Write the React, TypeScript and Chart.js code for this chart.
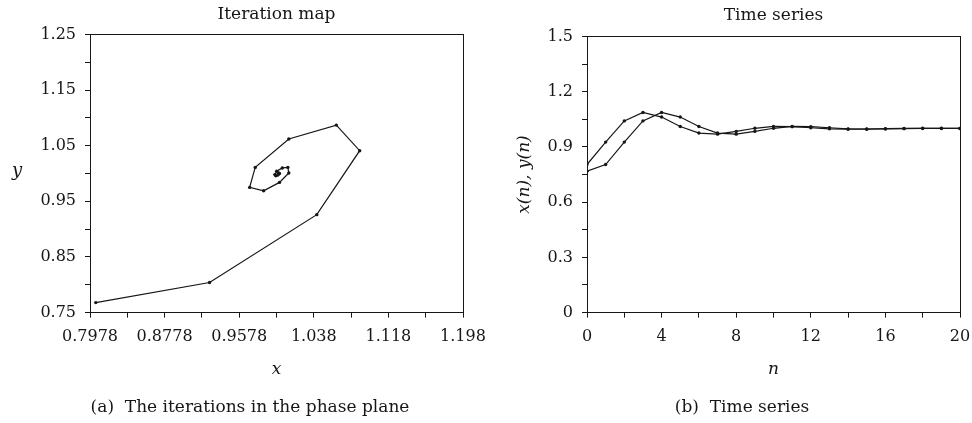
import React, { useEffect, useRef } from "react";
import { Chart, registerables } from "chart.js";

Chart.register(...registerables);

// ---------- data ----------
const nValues = [0, 1, 2, 3, 4, 5, 6, 7, 8, 9, 10, 11, 12, 13, 14, 15, 16, 17, 18, 19, 20];
const xSeries = [0.804, 0.926, 1.041, 1.087, 1.062, 1.011, 0.975, 0.969, 0.984, 1.001, 1.011, 1.01, 1.004, 0.998, 0.996, 0.997, 0.999, 1.0, 1.001, 1.0, 1.0];
const ySeries = [0.768, 0.804, 0.926, 1.041, 1.087, 1.062, 1.011, 0.975, 0.969, 0.984, 1.001, 1.011, 1.01, 1.004, 0.998, 0.996, 0.997, 0.999, 1.0, 1.001, 1.0];

const phaseXTicks = [0.7978, 0.8378, 0.8778, 0.9178, 0.9578, 0.9978, 1.0378, 1.0778, 1.1178, 1.1578, 1.1978];
const phaseXTickLabels = ["0.7978", "0.8778", "0.9578", "1.038", "1.118", "1.198"];
const phaseYTicks = [0.75, 0.8, 0.85, 0.9, 0.95, 1.0, 1.05, 1.1, 1.15, 1.2, 1.25];
const phaseYTickLabels = ["0.75", "0.85", "0.95", "1.05", "1.15", "1.25"];

const timeXTicks = [0, 2, 4, 6, 8, 10, 12, 14, 16, 18, 20];
const timeXTickLabels = ["0", "4", "8", "12", "16", "20"];
const timeYTicks = [0, 0.15, 0.3, 0.45, 0.6, 0.75, 0.9, 1.05, 1.2, 1.35, 1.5];
const timeYTickLabels = ["0", "0.3", "0.6", "0.9", "1.2", "1.5"];

const leftTitle = "Iteration map";
const rightTitle = "Time series";
const leftCaption = "(a)  The iterations in the phase plane";
const rightCaption = "(b)  Time series";
const leftXLabel = "x";
const leftYLabel = "y";
const rightXLabel = "n";
const rightYLabel = "x(n), y(n)";

// ---------- styling ----------
const INK = "#161616";
const FAMILY = "'DejaVu Serif', 'Liberation Serif', serif";
const tickFont = { family: FAMILY, size: 16, style: "normal" as const, weight: "normal" as const };
const labelFont = { family: FAMILY, size: 17, style: "italic" as const, weight: "normal" as const };
const titleFont = { family: FAMILY, size: 17, weight: "normal" as const };
const captionFont = { family: FAMILY, size: 17, weight: "normal" as const };

function tickedAxis(
  position: "left" | "bottom",
  min: number,
  max: number,
  ticks: number[],
  labels: string[],
  size: number,
  title?: any
) {
  const horizontal = position === "bottom";
  return {
    type: "linear" as const,
    position,
    min,
    max,
    afterBuildTicks: (s: any) => {
      s.ticks = ticks.map((v) => ({ value: v }));
    },
    afterFit: (s: any) => {
      if (horizontal) s.height = size;
      else s.width = size;
    },
    ticks: {
      autoSkip: false,
      maxRotation: 0,
      minRotation: 0,
      padding: horizontal ? 10 : 9,
      color: INK,
      font: tickFont,
      callback: (_v: any, i: number) => (i % 2 === 0 ? labels[i / 2] : ""),
    },
    grid: {
      display: true,
      drawOnChartArea: false,
      drawTicks: true,
      tickLength: 5,
      color: INK,
      lineWidth: 1,
    },
    border: { display: true, color: INK, width: 1 },
    title: title || { display: false },
  };
}

function frameAxes(rightWidth: number) {
  return {
    xTop: {
      type: "linear" as const,
      position: "top" as const,
      display: true,
      ticks: { display: false },
      grid: { display: false, drawTicks: false },
      border: { display: true, color: INK, width: 1 },
      afterFit: (s: any) => {
        s.height = 0;
      },
    },
    yRight: {
      type: "linear" as const,
      position: "right" as const,
      display: true,
      ticks: { display: false },
      grid: { display: false, drawTicks: false },
      border: { display: true, color: INK, width: 1 },
      afterFit: (s: any) => {
        s.width = rightWidth;
      },
    },
  };
}

const uprightYLabel = {
  id: "uprightYLabel",
  afterDraw(chart: any) {
    const { ctx, chartArea } = chart;
    ctx.save();
    ctx.fillStyle = INK;
    ctx.font = `italic 18px ${FAMILY}`;
    ctx.textAlign = "center";
    ctx.textBaseline = "middle";
    ctx.fillText(leftYLabel, 17, (chartArea.top + chartArea.bottom) / 2 - 2);
    ctx.restore();
  },
};

const lineStyle = {
  borderColor: INK,
  borderWidth: 1.2,
  pointRadius: 1.7,
  pointBackgroundColor: INK,
  pointBorderWidth: 0,
  pointHoverRadius: 1.7,
  tension: 0,
  fill: false,
};

export default function App() {
  const leftRef = useRef<HTMLCanvasElement | null>(null);
  const rightRef = useRef<HTMLCanvasElement | null>(null);

  useEffect(() => {
    if (!leftRef.current || !rightRef.current) return;

    const phasePoints = xSeries.map((xv, i) => ({ x: xv, y: ySeries[i] }));

    const left = new Chart(leftRef.current, {
      type: "scatter",
      data: {
        datasets: [
          {
            label: "phase",
            data: phasePoints,
            showLine: true,
            xAxisID: "x",
            yAxisID: "y",
            ...lineStyle,
          } as any,
        ],
      },
      options: {
        responsive: false,
        animation: false,
        events: [],
        layout: { padding: 0 },
        plugins: {
          legend: { display: false },
          tooltip: { enabled: false },
          title: {
            display: true,
            text: leftTitle,
            fullSize: false,
            color: INK,
            font: titleFont,
            padding: { top: 4, bottom: 10 },
          },
          subtitle: {
            display: true,
            position: "bottom",
            text: leftCaption,
            color: INK,
            font: captionFont,
            padding: { top: 0, bottom: 5 },
          },
        },
        scales: {
          x: tickedAxis("bottom", 0.7978, 1.1978, phaseXTicks, phaseXTickLabels, 85, {
            display: true,
            text: leftXLabel,
            color: INK,
            font: labelFont,
            padding: { top: 4, bottom: 18 },
          }),
          y: tickedAxis("left", 0.75, 1.25, phaseYTicks, phaseYTickLabels, 90),
          ...frameAxes(37),
        } as any,
      },
      plugins: [uprightYLabel],
    });

    const right = new Chart(rightRef.current, {
      type: "line",
      data: {
        labels: nValues,
        datasets: [
          {
            label: "x(n)",
            data: nValues.map((n, i) => ({ x: n, y: xSeries[i] })),
            xAxisID: "x",
            yAxisID: "y",
            ...lineStyle,
          } as any,
          {
            label: "y(n)",
            data: nValues.map((n, i) => ({ x: n, y: ySeries[i] })),
            xAxisID: "x",
            yAxisID: "y",
            ...lineStyle,
          } as any,
        ],
      },
      options: {
        responsive: false,
        animation: false,
        events: [],
        layout: { padding: 0 },
        plugins: {
          legend: { display: false },
          tooltip: { enabled: false },
          title: {
            display: true,
            text: rightTitle,
            fullSize: false,
            color: INK,
            font: titleFont,
            padding: { top: 5, bottom: 11 },
          },
          subtitle: {
            display: true,
            position: "bottom",
            text: rightCaption,
            color: INK,
            font: captionFont,
            padding: { top: 0, bottom: 5 },
          },
        },
        scales: {
          x: tickedAxis("bottom", 0, 20, timeXTicks, timeXTickLabels, 85, {
            display: true,
            text: rightXLabel,
            color: INK,
            font: labelFont,
            padding: { top: 4, bottom: 18 },
          }),
          y: tickedAxis("left", 0, 1.5, timeYTicks, timeYTickLabels, 87, {
            display: true,
            text: rightYLabel,
            color: INK,
            font: labelFont,
            padding: { top: 14, bottom: 0 },
          }),
          ...frameAxes(24),
        } as any,
      },
    });

    return () => {
      left.destroy();
      right.destroy();
    };
  }, []);

  return (
    <div
      style={{
        position: "absolute",
        left: 0,
        top: 0,
        width: 972,
        height: 423,
        overflow: "hidden",
        background: "#fff",
      }}
    >
      <canvas
        ref={leftRef}
        width={500}
        height={423}
        style={{ position: "absolute", left: 0, top: 0, width: 500, height: 423 }}
      />
      <canvas
        ref={rightRef}
        width={484}
        height={423}
        style={{ position: "absolute", left: 500, top: 0, width: 484, height: 423 }}
      />
    </div>
  );
}
